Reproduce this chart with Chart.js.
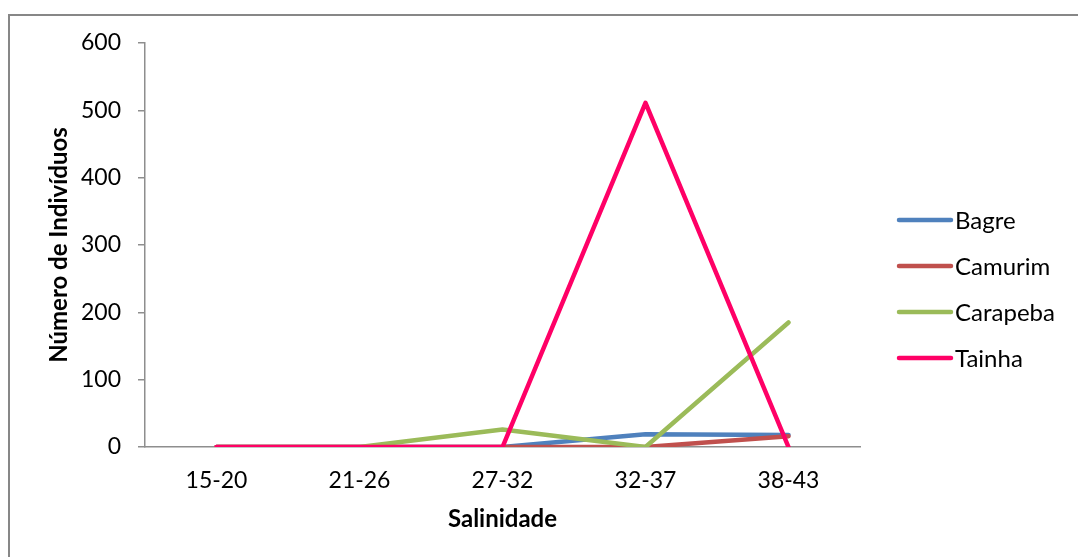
<!DOCTYPE html>
<html>
<head>
<meta charset="utf-8">
<script src="https://cdn.jsdelivr.net/npm/chart.js@4/dist/chart.umd.min.js"></script>
<style>
  html, body { margin: 0; padding: 0; background: #ffffff; }
  #wrap { width: 1078px; height: 557px; position: relative; }
</style>
</head>
<body>
<div id="wrap"><canvas id="c" width="1078" height="557"></canvas></div>
<script>
// Salinity classes and fish counts per species
const categories = ['15-20', '21-26', '27-32', '32-37', '38-43'];
const bagre    = [0, 0, 0, 19, 18];
const camurim  = [0, 0, 0, 0, 16];
const carapeba = [0, 0, 26, 0, 185];
const tainha   = [0, 0, 0, 511, 0];
const yTicks   = [0, 100, 200, 300, 400, 500, 600];

const seriesNames  = ['Bagre', 'Camurim', 'Carapeba', 'Tainha'];
const seriesValues = [bagre, camurim, carapeba, tainha];
const seriesColors = ['#4F81BD', '#C0504D', '#9BBB59', '#FF0066'];

const FONT = 'Lato, "Open Sans", sans-serif';

// Frame around the chart object (top and left edges)
const framePlugin = {
  id: 'frame',
  beforeDraw(chart) {
    const ctx = chart.ctx;
    ctx.save();
    ctx.strokeStyle = '#878787';
    ctx.lineWidth = 2;
    ctx.beginPath();
    ctx.moveTo(9, chart.height);
    ctx.lineTo(9, 15);
    ctx.lineTo(chart.width, 15);
    ctx.stroke();
    ctx.restore();
  }
};

// Legend on the right side, one line sample per series
const sideLegend = {
  id: 'sideLegend',
  afterDraw(chart) {
    const ctx = chart.ctx;
    const x0 = 899, x1 = 951, tx = 955;
    const yStart = 220, gap = 46;
    ctx.save();
    ctx.font = '24px ' + FONT;
    ctx.textBaseline = 'middle';
    ctx.textAlign = 'left';
    chart.data.datasets.forEach((ds, i) => {
      const y = yStart + i * gap;
      ctx.strokeStyle = ds.borderColor;
      ctx.lineWidth = 4.5;
      ctx.lineCap = 'round';
      ctx.beginPath();
      ctx.moveTo(x0, y);
      ctx.lineTo(x1, y);
      ctx.stroke();
      ctx.fillStyle = '#000000';
      ctx.fillText(ds.label, tx, y + 1);
    });
    ctx.restore();
  }
};

const datasets = seriesNames.map((name, i) => ({
  label: name,
  data: seriesValues[i],
  borderColor: seriesColors[i],
  backgroundColor: seriesColors[i],
  borderWidth: 4.5,
  pointRadius: 0,
  pointHoverRadius: 0,
  tension: 0,
  fill: false,
  borderJoinStyle: 'round',
  borderCapStyle: 'round',
  // later series sit on top
  order: seriesNames.length - 1 - i
}));

new Chart(document.getElementById('c'), {
  type: 'line',
  data: { labels: categories, datasets },
  plugins: [framePlugin, sideLegend],
  options: {
    responsive: false,
    animation: false,
    events: [],
    layout: { padding: { left: 20, top: 43, right: 218, bottom: 20 } },
    plugins: {
      legend: { display: false },
      tooltip: { enabled: false },
      title: { display: false }
    },
    scales: {
      x: {
        type: 'category',
        offset: true,
        grid: { display: false, drawTicks: false },
        border: { display: true, color: '#8E8E8E', width: 1.5 },
        ticks: {
          color: '#000000',
          font: { family: FONT, size: 23 },
          padding: 20,
          maxRotation: 0
        },
        title: {
          display: true,
          text: 'Salinidade',
          color: '#000000',
          font: { family: FONT, size: 24, weight: 'bold' },
          padding: { top: 2, bottom: 3 }
        },
        afterFit(scale) { scale.height = 90; }
      },
      y: {
        min: 0,
        max: 600,
        afterBuildTicks(scale) { scale.ticks = yTicks.map(v => ({ value: v })); },
        grid: {
          drawOnChartArea: false,
          drawTicks: true,
          tickLength: 7,
          color: '#8E8E8E',
          lineWidth: 1.5
        },
        border: { display: true, color: '#8E8E8E', width: 1.5 },
        ticks: {
          color: '#000000',
          font: { family: FONT, size: 23 },
          padding: 17
        },
        title: {
          display: true,
          text: 'Número de Indivíduos',
          color: '#000000',
          font: { family: FONT, size: 24, weight: 'bold' },
          padding: { top: 25, bottom: 0 }
        },
        afterFit(scale) { scale.width = 125; }
      }
    }
  }
});
</script>
</body>
</html>
